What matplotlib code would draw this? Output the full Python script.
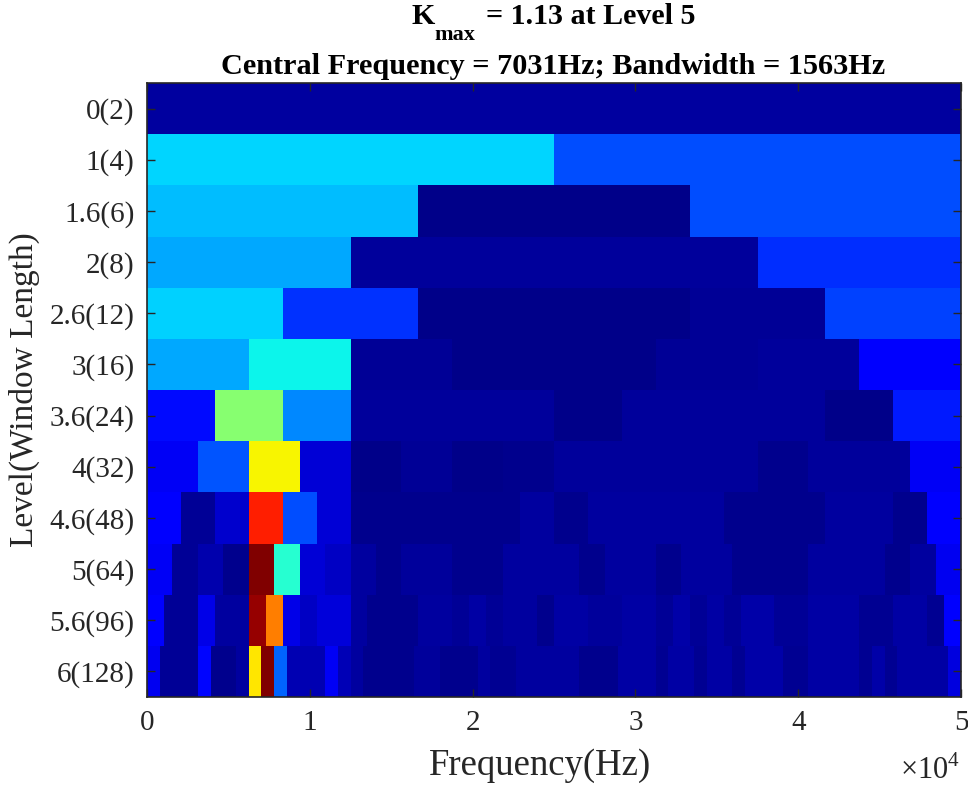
import numpy as np
import matplotlib
matplotlib.use("Agg")
import matplotlib.pyplot as plt

plt.rcParams['font.family'] = ['Liberation Serif', 'DejaVu Serif']
plt.rcParams['mathtext.fontset'] = 'custom'
plt.rcParams['mathtext.rm'] = 'Liberation Serif'

level_labels = ['0(2)', '1(4)', '1.6(6)', '2(8)', '2.6(12)', '3(16)', '3.6(24)',
                '4(32)', '4.6(48)', '5(64)', '5.6(96)', '6(128)']

# kurtosis per band, as fraction of the maximum
row0 = [.03]
row1 = [.335, .2]
row16 = [.31, .01, .2]
row2 = [.29, .025, .025, .17]
row26 = [.33, .175, .01, .01, .02, .19]
row3 = [.29, .365, .02, .01, .01, .02, .025, .11]
row36 = [.135, .515, .26, .025, .025, .025, .01, .025, .025, .025, .01, .15]
row4 = [.105, .21, .65, .077, .01, .02, .01, .012, .027, .027, .027, .027, .015, .027, .027, .105]
row46 = [.115, .02, .07, .875, .2, .075, .015, .015, .015, .015, .015, .028,
         .015, .028, .028, .028, .028, .015, .015, .015, .028, .028, .015, .11]
row5 = [.105, .02, .04, .015, 1.0, .395, .075, .06, .03, .015, .025, .025, .012, .012, .028, .028,
        .028, .012, .028, .028, .012, .028, .028, .012, .012, .012, .028, .028, .028, .015, .028, .1]
row56 = [.115, .02, .02, .09, .03, .03, .98, .775, .09, .06, .08, .08, .03, .015, .015, .015,
         .028, .028, .02, .032, .02, .03, .03, .015, .032, .032, .026, .026, .032, .032, .022, .036,
         .022, .034, .022, .036, .036, .022, .022, .032, .032, .032, .018, .018, .032, .032, .018, .11]
row6 = [.1, .02, .02, .02, .13, .012, .012, .028, .667, 1.0, .225, .045, .045, .045, .105, .05,
        .03, .015, .015, .015, .015, .026, .026, .015, .015, .015, .03, .018, .018, .03, .03, .03,
        .03, .03, .015, .015, .015, .032, .032, .032, .018, .034, .034, .018, .034, .034, .018, .036,
        .036, .036, .018, .018, .032, .032, .032, .032, .018, .036, .018, .032, .032, .032, .032, .085]
rows = [row0, row1, row16, row2, row26, row3, row36, row4, row46, row5, row56, row6]

fig = plt.figure(figsize=(9.68, 7.89), dpi=100)
ax = fig.add_axes([147 / 968, 1 - 697 / 789, (961 - 147) / 968, (697 - 83) / 789])

for i, vals in enumerate(rows):
    edges = np.linspace(0, 50000, len(vals) + 1)
    ax.pcolormesh(edges, [i - 0.5, i + 0.5], [vals], cmap='jet', vmin=0, vmax=1)

ax.set_xlim(0, 50000)
ax.set_ylim(len(rows) - 0.5, -0.5)
ax.set_xticks([0, 10000, 20000, 30000, 40000, 50000])
ax.set_xticklabels(['0', '1', '2', '3', '4', '5'])
ax.set_yticks(range(len(rows)))
ax.set_yticklabels(level_labels)

dark = '#262626'
ax.tick_params(direction='in', top=True, right=True, length=6, width=1.0, colors=dark, labelsize=21)
ax.tick_params(axis='x', pad=9)
ax.tick_params(axis='y', pad=9)
for s in ax.spines.values():
    s.set_linewidth(1.2)
    s.set_color(dark)


def px_text(x, y, s, **kw):
    fig.text(x / 968, 1 - y / 789, s, va='center', **kw)


px_text(540, 766, 'Frequency(Hz)', fontsize=26.5, color=dark, ha='center')
px_text(24, 390, 'Level(Window Length)', fontsize=24, color=dark, ha='center', rotation=90)

px_text(411, 16, 'K', fontsize=21.6, fontweight='bold', ha='left')
px_text(434, 35, 'max', fontsize=16, fontweight='bold', ha='left')
px_text(486, 16, '= 1.13 at Level 5', fontsize=21.6, fontweight='bold', ha='left')
px_text(553, 66, 'Central Frequency = 7031Hz; Bandwidth = 1563Hz', fontsize=21.8, fontweight='bold', ha='center')
px_text(960, 771, r'$\times 10^{4}$', fontsize=22, color=dark, ha='right')

fig.savefig('out.png', dpi=100)
